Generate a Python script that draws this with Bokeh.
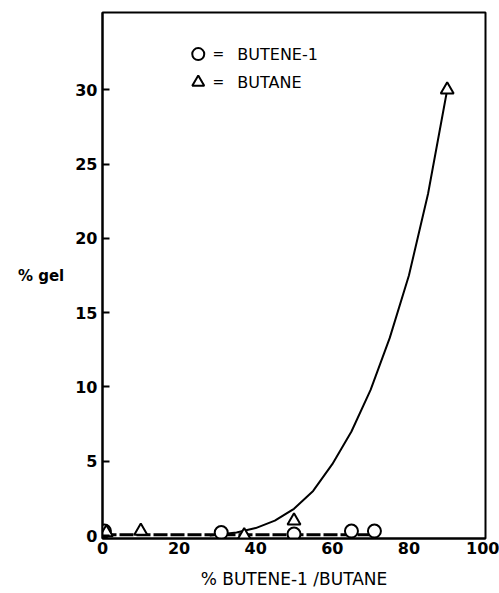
from bokeh.plotting import figure
from bokeh.models import Range1d, FixedTicker
from bokeh.embed import file_html
from bokeh.resources import INLINE
from bokeh.core.properties import value

# Data
butene_x = [0.5, 31, 50, 65, 71]
butene_y = [0.3, 0.2, 0.1, 0.3, 0.3]
butane_x = [1, 10, 37, 50, 90]
butane_y = [0.2, 0.3, 0.0, 1.0, 30]
curve_x = [28, 35, 40, 45, 50, 55, 60, 65, 70, 75, 80, 85, 90]
curve_y = [0.0, 0.2, 0.5, 1.0, 1.8, 3.0, 4.8, 7.0, 9.8, 13.3, 17.5, 23.0, 30.0]
base_x = [0, 72]
base_y = [0.05, 0.05]
x_ticks = [0, 20, 40, 60, 80, 100]
y_ticks = [0, 5, 10, 15, 20, 25, 30]
legend_labels = ["BUTENE-1", "BUTANE"]

FONT = "DejaVu Sans"

p = figure(width=499, height=593, output_backend="svg", toolbar_location=None,
           x_range=Range1d(0, 100), y_range=Range1d(-0.2, 35.2),
           min_border_left=102, min_border_right=14, min_border_top=12,
           min_border_bottom=55)
p.grid.visible = False
p.outline_line_color = "black"
p.outline_line_width = 2
p.background_fill_color = "white"

for ax in (p.xaxis[0], p.yaxis[0]):
    ax.axis_line_width = 2
    ax.axis_line_color = "black"
    ax.major_tick_line_width = 2
    ax.minor_tick_line_color = None
    ax.major_label_text_font = FONT
    ax.major_label_text_font_style = "bold"
    ax.major_label_text_font_size = "16px"
    ax.major_label_text_color = "black"
    ax.axis_label_text_font = FONT
    ax.axis_label_text_color = "black"

p.xaxis.ticker = FixedTicker(ticks=x_ticks)
p.yaxis.ticker = FixedTicker(ticks=y_ticks)
p.xaxis.major_tick_in = 0
p.xaxis.major_tick_out = 0
p.xaxis.major_label_standoff = 3
p.yaxis.major_tick_in = 7
p.yaxis.major_tick_out = 0
p.yaxis.major_label_standoff = 5

p.xaxis.axis_label = "% BUTENE-1 /BUTANE"
p.xaxis.axis_label_text_font_size = "17px"
p.xaxis.axis_label_text_font_style = "normal"
p.xaxis.axis_label_standoff = 12

p.yaxis.axis_label = "% gel"
p.yaxis.axis_label_orientation = "horizontal"
p.yaxis.axis_label_text_font_size = "15px"
p.yaxis.axis_label_text_font_style = "bold"
p.yaxis.axis_label_standoff = 8

# baseline (dashed) and fitted curve
p.line(base_x, base_y, line_color="black", line_width=3, line_dash="14 3")
p.line(curve_x, curve_y, line_color="black", line_width=2)

p.scatter(butene_x, butene_y, marker="circle", size=13, fill_color="white",
          line_color="black", line_width=2)
p.scatter(butane_x, butane_y, marker="triangle", size=13, fill_color="white",
          line_color="black", line_width=2)

# legend as in the reference
p.scatter([25], [32.4], marker="circle", size=12, fill_color="white",
          line_color="black", line_width=2)
p.scatter([25], [30.5], marker="triangle", size=12, fill_color="white",
          line_color="black", line_width=2)
p.text([28.7, 28.7], [32.4, 30.5], text=["=", "="], text_font=value(FONT),
       text_font_size="14px", text_baseline="middle")
p.text([35.2, 35.2], [32.4, 30.5], text=legend_labels, text_font=value(FONT),
       text_font_size="16px", text_baseline="middle")

open("out.html", "w").write(file_html(p, INLINE))
